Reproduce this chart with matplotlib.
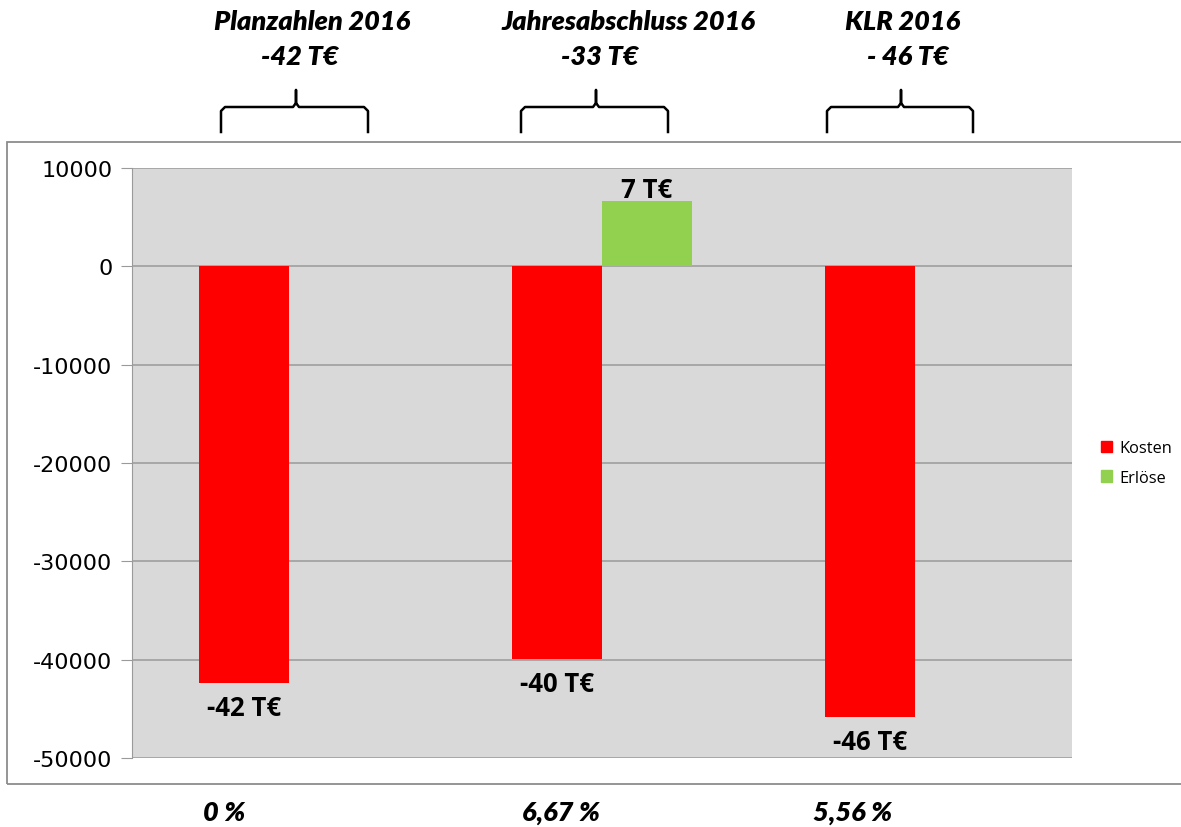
import matplotlib
matplotlib.use("Agg")
import matplotlib.pyplot as plt
from matplotlib.lines import Line2D
from matplotlib.patches import Rectangle
import numpy as np

categories = ["Planzahlen 2016", "Jahresabschluss 2016", "KLR 2016"]
kosten = [-42400, -39900, -45800]
erloese = [0, 6600, 0]
bar_labels_kosten = ["-42 T€", "-40 T€", "-46 T€"]
bar_labels_erloese = ["", "7 T€", ""]
totals = ["-42 T€", "-33 T€", "- 46 T€"]
percents = ["0 %", "6,67 %", "5,56 %"]
yticks = [10000, 0, -10000, -20000, -30000, -40000, -50000]

W, H = 1181, 828
fig = plt.figure(figsize=(W/100, H/100), dpi=100)
fig.patch.set_facecolor("white")

def fx(px): return px / W
def fy(py): return 1 - py / H

# outer chart frame
fig.add_artist(Rectangle((fx(7), fy(785)), fx(1200) - fx(7), fy(143) - fy(785),
                         transform=fig.transFigure, fill=False, edgecolor="#8c8c8c", lw=1.3))

ax = fig.add_axes([fx(132), fy(759), fx(1072) - fx(132), fy(169) - fy(759)])
ax.set_facecolor("#d9d9d9")
x = np.arange(len(categories))
w = 0.287
ax.bar(x - w/2, kosten, w, color="#ff0000", label="Kosten", zorder=3)
ax.bar(x + w/2, erloese, w, color="#92d050", label="Erlöse", zorder=3)
ax.set_xlim(-0.5, 2.5)
ax.set_ylim(-50000, 10000)
ax.set_yticks(yticks)
ax.set_yticklabels([str(v) for v in yticks], fontsize=16, family="DejaVu Sans")
ax.set_xticks([])
ax.grid(axis="y", color="#9a9a9a", lw=1.1, zorder=1)
ax.set_axisbelow(True)
for s in ["top", "right", "bottom"]:
    ax.spines[s].set_visible(False)
ax.spines["left"].set_color("#9a9a9a")
ax.tick_params(axis="y", length=8, color="#9a9a9a", pad=6)

lab_font = dict(fontsize=18.5, fontweight="bold", family="Open Sans")
for i in range(len(categories)):
    ax.annotate(bar_labels_kosten[i], (x[i] - w/2, kosten[i]), xytext=(0, -8),
                textcoords="offset points", ha="center", va="top", **lab_font)
    if bar_labels_erloese[i]:
        ax.annotate(bar_labels_erloese[i], (x[i] + w/2, erloese[i]), xytext=(0, -1),
                    textcoords="offset points", ha="center", va="bottom", **lab_font)

leg = ax.legend(handles=[Rectangle((0, 0), 1, 1, color="#ff0000"), Rectangle((0, 0), 1, 1, color="#92d050")],
                labels=["Kosten", "Erlöse"], loc="center left", bbox_to_anchor=(fx(1086), fy(464)),
                bbox_transform=fig.transFigure, frameon=False, handlelength=0.7, handleheight=0.7,
                handletextpad=0.45, labelspacing=0.85, prop=dict(family="Open Sans", size=11.8))

# top headings and braces
title_font = dict(fontsize=19.5, fontweight="heavy", style="italic", family="Lato")
title_x = [312, 628, 903]
total_x = [300, 600, 908]
brace = [(221, 368, 296), (521, 668, 596), (827, 973, 901)]
for i in range(len(categories)):
    fig.text(fx(title_x[i]), fy(22), categories[i], ha="center", va="center", **title_font)
    fig.text(fx(total_x[i]), fy(57), totals[i], ha="center", va="center", **title_font)
    l, r, c = brace[i]
    xs = [l, l, l + 4, c - 3, c, c, c, c + 3, r - 4, r, r]
    ys = [133, 112, 108, 108, 104, 91, 104, 108, 108, 112, 133]
    fig.add_artist(Line2D([fx(v) for v in xs], [fy(v) for v in ys], transform=fig.transFigure,
                          color="black", lw=1.8))

pct_x = [224, 561, 853]
for i in range(len(categories)):
    fig.text(fx(pct_x[i]), fy(813), percents[i], ha="center", va="center", **title_font)

fig.savefig("out.png", dpi=100)
